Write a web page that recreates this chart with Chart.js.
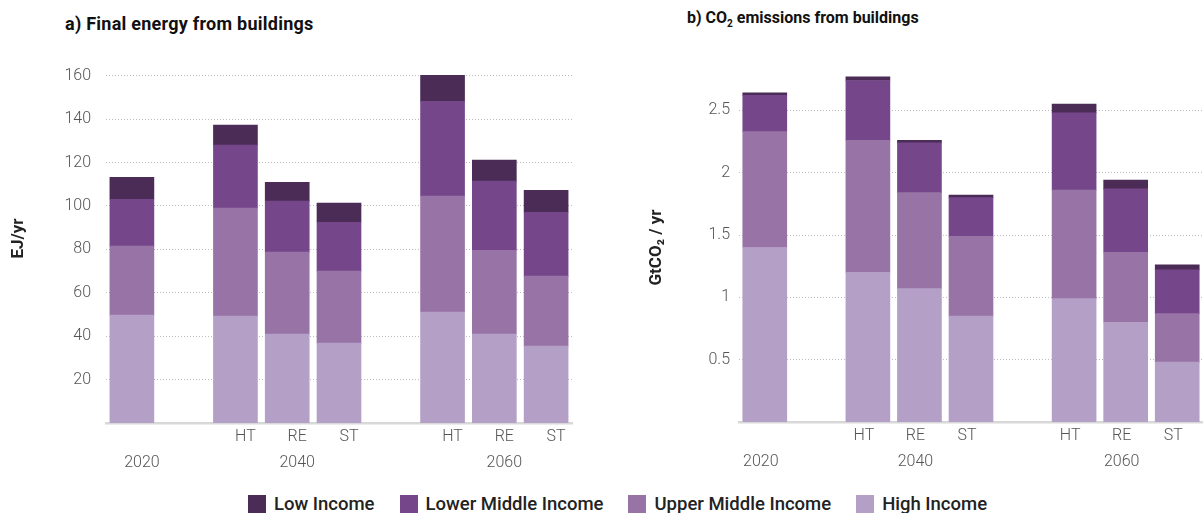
<!DOCTYPE html>
<html>
<head>
<meta charset="utf-8">
<script src="https://cdn.jsdelivr.net/npm/chart.js@4.4.1/dist/chart.umd.min.js"></script>
<style>
  html, body { margin: 0; padding: 0; background: #fff; }
  #wrap { position: relative; width: 1203px; height: 513px; overflow: hidden; font-family: Roboto, "Noto Sans", sans-serif; }
  canvas { position: absolute; top: 0; }
  #c1 { left: 0; }
  #c2 { left: 600px; }
  .ptitle { position: absolute; font-weight: 700; color: #111; line-height: 20px; white-space: nowrap; }
  #t1 { left: 65px; top: 14px; font-size: 18px; letter-spacing: 0.25px; }
  #t2 { left: 687px; top: 8px; font-size: 16px; }
  .ptitle sub { font-size: 10px; vertical-align: -4px; line-height: 0; }
  #legend { position: absolute; left: 248px; top: 495px; display: flex; align-items: center; }
  .li { display: flex; align-items: center; margin-right: 25px; }
  .sw { width: 18px; height: 18px; margin-right: 8px; }
  .lt { font-size: 18.5px; font-weight: 500; color: #222; line-height: 18px; white-space: nowrap; }
</style>
</head>
<body>
<div id="wrap">
  <div class="ptitle" id="t1">a) Final energy from buildings</div>
  <div class="ptitle" id="t2">b) CO<sub>2</sub> emissions from buildings</div>
  <canvas id="c1" width="600" height="480"></canvas>
  <canvas id="c2" width="603" height="480"></canvas>
  <div id="legend"></div>
</div>
<script>
// ---- categories (empty columns act as spacers between year groups) ----
const scenarioLabels = ['', '', 'HT', 'RE', 'ST', '', 'HT', 'RE', 'ST'];
const yearLabels     = ['2020', '', '', '2040', '', '', '', '2060', ''];

// ---- series (bottom to top of the stack) ----
const seriesNames  = ['High Income', 'Upper Middle Income', 'Lower Middle Income', 'Low Income'];
const seriesColors = ['#b4a0c7', '#9773a6', '#75478a', '#4a2c57'];

// ---- a) Final energy from buildings, EJ/yr ----
const energyHigh      = [49.7, null, 49.3, 41.0, 36.8, null, 51.1, 41.0, 35.4];
const energyUpperMid  = [31.8, null, 49.7, 37.7, 33.2, null, 53.4, 38.6, 32.3];
const energyLowerMid  = [21.6, null, 29.0, 23.5, 22.5, null, 43.7, 31.8, 29.4];
const energyLow       = [10.1, null,  9.2,  8.7,  8.8, null, 12.0,  9.7, 10.1];

// ---- b) CO2 emissions from buildings, GtCO2/yr ----
const co2High     = [1.40, null, 1.20, 1.07, 0.85, null, 0.99, 0.80, 0.48];
const co2UpperMid = [0.93, null, 1.06, 0.77, 0.64, null, 0.87, 0.56, 0.39];
const co2LowerMid = [0.29, null, 0.48, 0.40, 0.31, null, 0.62, 0.51, 0.35];
const co2Low      = [0.02, null, 0.03, 0.02, 0.02, null, 0.07, 0.07, 0.04];

const energySeries = [energyHigh, energyUpperMid, energyLowerMid, energyLow];
const co2Series    = [co2High, co2UpperMid, co2LowerMid, co2Low];

const labels = scenarioLabels.map((s, i) => [s, yearLabels[i]]);

const tickFont = { family: 'Roboto', size: 16, weight: '300', lineHeight: 1.625 };
const titleFont = { family: 'Roboto', size: 17, weight: '700' };

function buildDatasets(series) {
  return series.map((vals, i) => ({
    label: seriesNames[i],
    data: vals,
    backgroundColor: seriesColors[i],
    borderWidth: 0,
    barThickness: 44
  }));
}

function makeChart(id, series, opts) {
  return new Chart(document.getElementById(id), {
    type: 'bar',
    data: { labels: labels, datasets: buildDatasets(series) },
    options: {
      responsive: false,
      animation: false,
      devicePixelRatio: 1,
      layout: { padding: opts.padding },
      plugins: { legend: { display: false }, tooltip: { enabled: false } },
      scales: {
        x: {
          stacked: true,
          grid: { drawOnChartArea: false, drawTicks: false },
          border: { display: true, color: '#d8d8d8', width: 2.5 },
          ticks: { autoSkip: false, maxRotation: 0, padding: 1, color: '#555', font: tickFont, labelOffset: opts.labelOffset },
          afterFit: s => { s.height = 53; }
        },
        y: {
          stacked: true,
          min: 0,
          max: opts.max,
          grid: { color: '#bdbdbd', lineWidth: 1, drawTicks: false },
          border: { display: false, dash: [1, 2] },
          ticks: {
            stepSize: opts.step, includeBounds: false, padding: opts.tickPad, color: '#555',
            font: { family: 'Roboto', size: 16, weight: '300' },
            callback: v => String(v)
          },
          afterBuildTicks: s => { s.ticks = s.ticks.filter(t => t.value > 0); },
          afterFit: s => { s.width = opts.yWidth; },
          title: { display: true, text: opts.yTitle, color: '#222', font: titleFont, padding: { top: opts.titlePad, bottom: 0 } }
        }
      }
    }
  });
}

makeChart('c1', energySeries, {
  padding: { top: 54, bottom: 4, left: 0, right: 28 },
  max: 170, step: 20, tickPad: 15, yWidth: 106, yTitle: 'EJ/yr', titlePad: 9, labelOffset: 10
});
makeChart('c2', co2Series, {
  padding: { top: 73, bottom: 5, left: 0, right: 0 },
  max: 2.8, step: 0.5, tickPad: 9, yWidth: 139, yTitle: 'GtCO\u2082 / yr', titlePad: 47, labelOffset: -4
});

// ---- shared legend (top of stack first) ----
const legend = document.getElementById('legend');
for (let i = seriesNames.length - 1; i >= 0; i--) {
  const item = document.createElement('div');
  item.className = 'li';
  const sw = document.createElement('div');
  sw.className = 'sw';
  sw.style.background = seriesColors[i];
  const t = document.createElement('span');
  t.className = 'lt';
  t.textContent = seriesNames[i];
  item.appendChild(sw);
  item.appendChild(t);
  legend.appendChild(item);
}
</script>
</body>
</html>
